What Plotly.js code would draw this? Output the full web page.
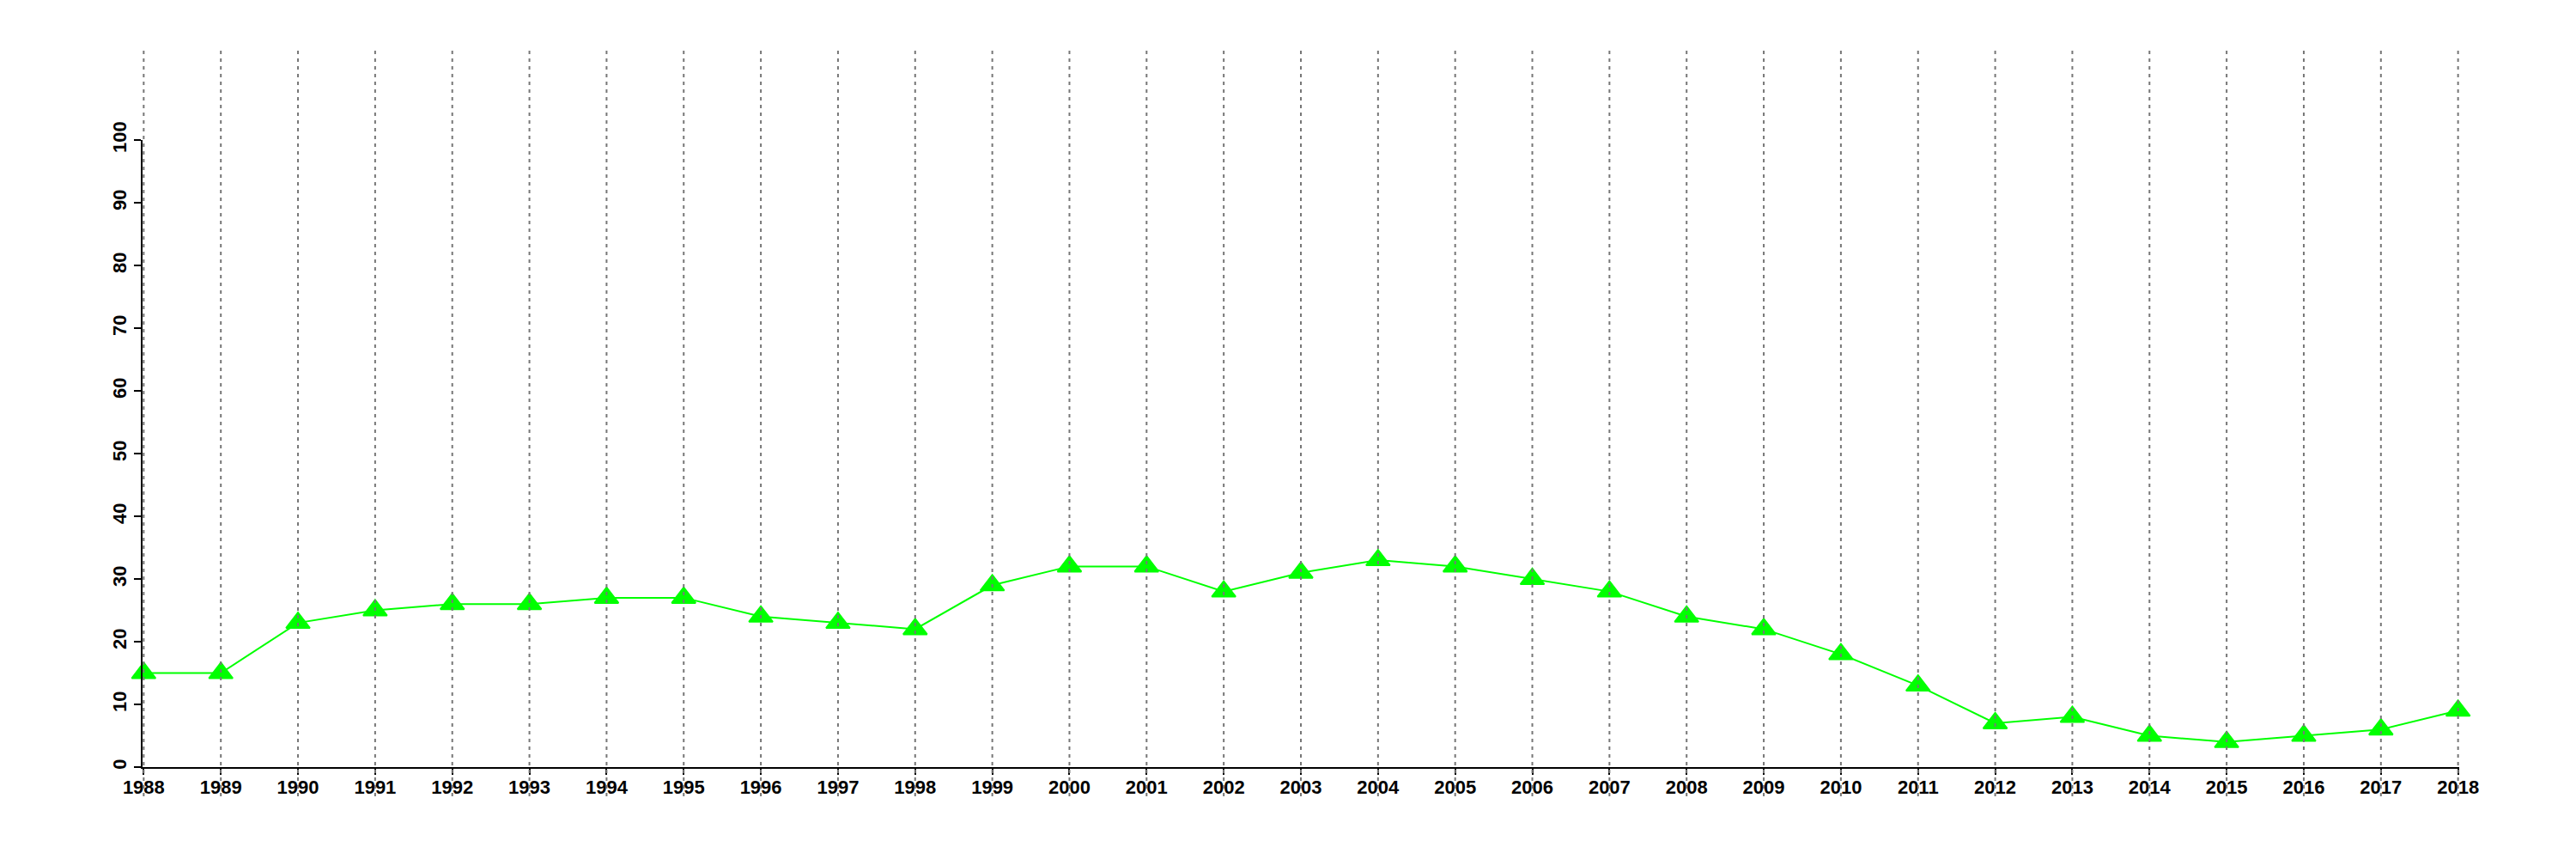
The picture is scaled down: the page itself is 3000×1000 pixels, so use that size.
<!DOCTYPE html>
<html>
<head>
<meta charset="utf-8">
<script src="https://cdn.plot.ly/plotly-3.0.1.min.js"></script>
<style>html,body{margin:0;padding:0;background:#fff;}#chart{width:3000px;height:1000px;}</style>
</head>
<body>
<div id="chart"></div>
<script>
// Data
const years = [1988,1989,1990,1991,1992,1993,1994,1995,1996,1997,1998,1999,2000,2001,2002,2003,2004,2005,2006,2007,2008,2009,2010,2011,2012,2013,2014,2015,2016,2017,2018];
const values = [15,15,23,25,26,26,27,27,24,23,22,29,32,32,28,31,33,32,30,28,24,22,18,13,7,8,5,4,5,6,9];
const yTicks = [0,10,20,30,40,50,60,70,80,90,100];

const green = '#00ff00';
const tickFont = {family: 'Liberation Sans, Arial, sans-serif', size: 22, color: '#000', weight: 'bold'};

const trace = {
  x: years,
  y: values,
  type: 'scatter',
  mode: 'lines+markers',
  line: {color: green, width: 2},
  marker: {symbol: 'triangle-up', size: 24, color: green, line: {color: green, width: 2}},
  cliponaxis: false,
  showlegend: false,
  hoverinfo: 'x+y'
};

const shapes = years.map(yr => ({
  type: 'line',
  xref: 'x', yref: 'paper',
  x0: yr, x1: yr,
  y0: -0.0466, y1: 1.1425,
  line: {color: '#777777', width: 2, dash: '4px,5px'},
  layer: 'above'
}));

const layout = {
  width: 3000,
  height: 1000,
  paper_bgcolor: '#fff',
  plot_bgcolor: '#fff',
  margin: {l: 166, r: 136, t: 163, b: 107, pad: 0},
  showlegend: false,
  xaxis: {
    range: [1987.985, 2018.015],
    tickmode: 'array',
    tickvals: years,
    ticktext: years.map(String),
    showgrid: false,
    zeroline: false,
    showline: true,
    linecolor: '#000',
    linewidth: 2,
    ticks: 'outside',
    ticklen: 7,
    tickwidth: 2,
    tickcolor: '#000',
    tickfont: tickFont,
    tickangle: 0,
    ticklabelstandoff: -4
  },
  yaxis: {
    range: [0, 100],
    tickmode: 'array',
    tickvals: yTicks,
    ticktext: yTicks.map(String),
    showgrid: false,
    zeroline: false,
    showline: true,
    linecolor: '#000',
    linewidth: 2,
    ticks: 'outside',
    ticklen: 8,
    tickwidth: 2,
    tickcolor: '#000',
    tickfont: tickFont,
    tickangle: -90
  },
  shapes: shapes
};

Plotly.newPlot('chart', [trace], layout, {displayModeBar: false, staticPlot: true});
</script>
</body>
</html>
